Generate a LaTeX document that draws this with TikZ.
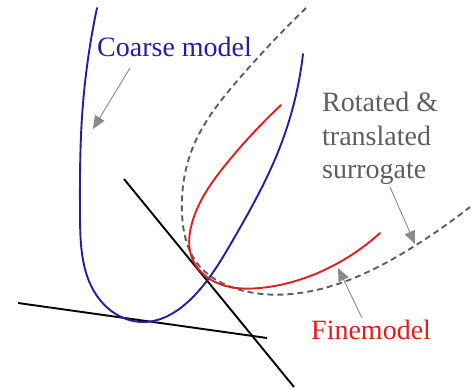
\documentclass[tikz,border=0pt]{standalone}
\usepackage{fontspec}
\setmainfont{Liberation Serif}
\usetikzlibrary{arrows.meta,hobby}
\definecolor{coarseblue}{HTML}{2A1AA8}
\definecolor{finered}{HTML}{E01E1E}
\definecolor{surgray}{HTML}{5E5E5E}
\definecolor{arrgray}{HTML}{8A8A8A}
\tikzset{
  curve/.style={line width=1.9pt, line cap=round, line join=round, use Hobby shortcut},
  tangent/.style={line width=1.9pt, black},
  pointer/.style={arrgray, line width=0.9pt, -{Triangle[length=13pt,width=11pt]}},
  lbl/.style={font=\fontsize{28}{34}\selectfont, inner sep=0pt, anchor=base west}
}
\begin{document}
\begin{tikzpicture}[x=1pt,y=-1pt]
\useasboundingbox (0,0) rectangle (472,390);
% tangent lines
\draw[tangent] (124,179) -- (294,387);
\draw[tangent] (18,303) -- (267,338);
% coarse model
\draw[curve, coarseblue] (97,8) .. (82,117) .. (80,215) .. (100,300) .. (143,322) .. (193,297) .. (233,240) .. (280,147) .. (303,54);
% surrogate
\draw[curve, surgray, dash pattern=on 6pt off 4pt, line cap=butt] (306,8) .. (238,80) .. (193,147) .. (182,213) .. (197,263) .. (237,289) .. (300,293) .. (413,247) .. (470,207);
% fine model
\draw[curve, finered] (281,105) .. (227,163) .. (192,223) .. (192,258) .. (215,282) .. (260,288) .. (320,272) .. (380,233);
% labels
\node[lbl, coarseblue] (coarse) at (97,57) {Coarse model};
\node[lbl, surgray] (rot) at (322,112) {Rotated \&};
\node[lbl, surgray] (trans) at (322,145.5) {translated};
\node[lbl, surgray] (surr) at (322,179) {surrogate};
\node[lbl, finered] (fine) at (311,340) {Finemodel};
% arrows
\coordinate (cA) at (130,68);
\coordinate (cB) at (93,129);
\coordinate (sA) at (390,187);
\coordinate (sB) at (415,244);
\coordinate (fA) at (362,318);
\coordinate (fB) at (338,268);
\draw[pointer] (cA) -- (cB);
\draw[pointer] (sA) -- (sB);
\draw[pointer] (fA) -- (fB);
\end{tikzpicture}
\end{document}
